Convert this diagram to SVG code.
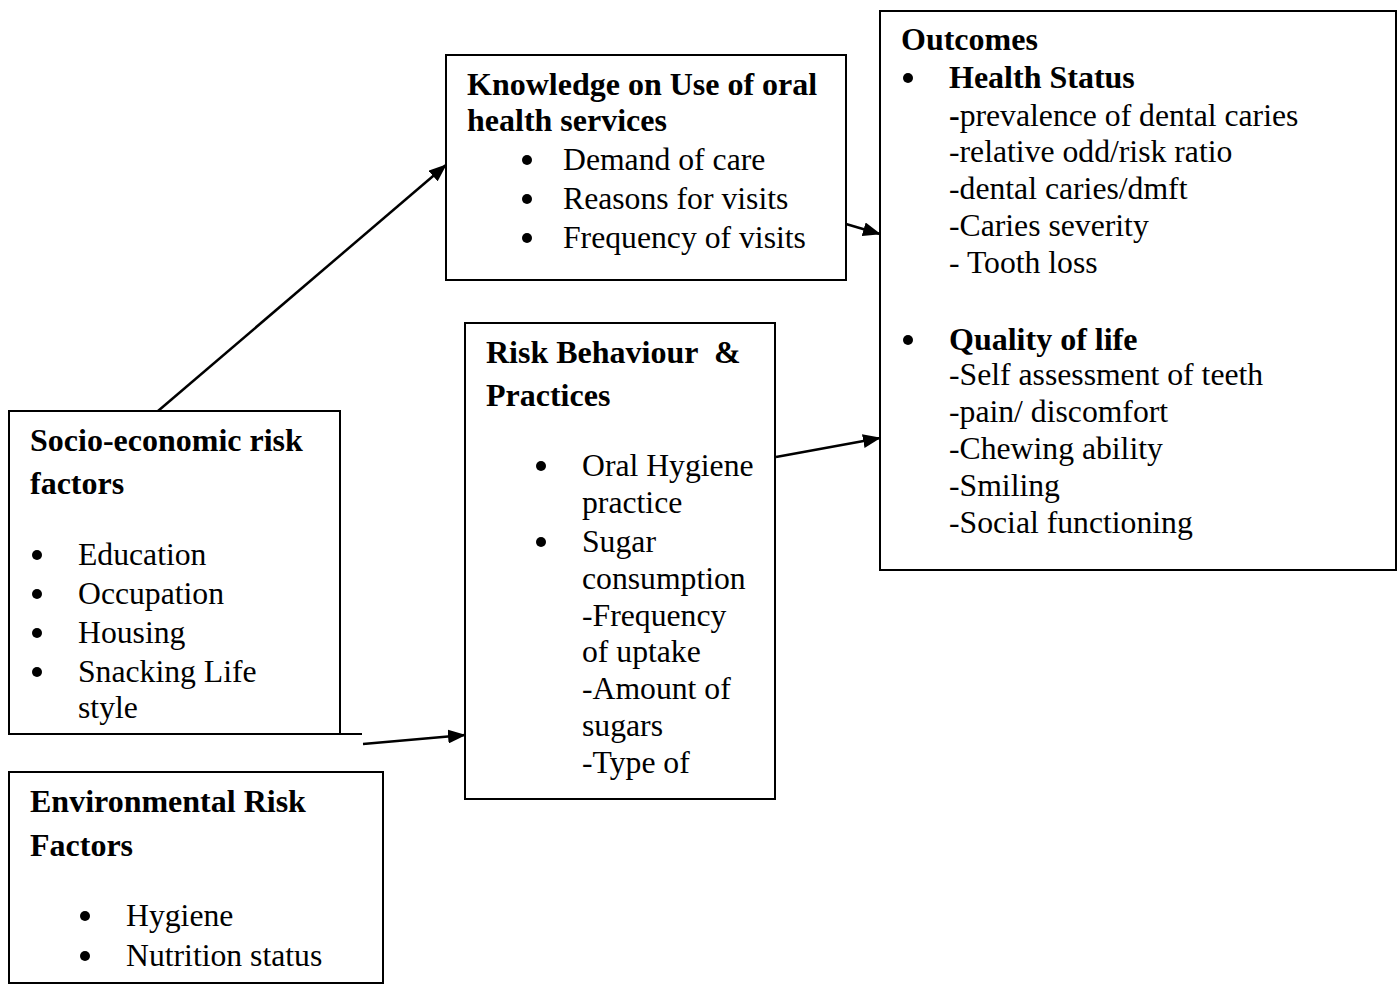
<svg xmlns="http://www.w3.org/2000/svg" width="1398" height="984" viewBox="0 0 1398 984">
<style>
text{font-family:"Liberation Serif","Times New Roman",serif;font-size:31.7px;fill:#000}
.b{font-weight:bold;font-size:32px}
.box{fill:#fff;stroke:#000;stroke-width:2}
.dot{fill:#000}
.ln{stroke:#000;stroke-width:2.5;fill:none}
</style>
<defs>
<marker id="ah2" markerWidth="18" markerHeight="14" refX="17" refY="7" orient="auto" markerUnits="userSpaceOnUse" viewBox="0 0 18 14">
<path d="M0,0 L18,7 L0,14 Z" fill="#000"/>
</marker>
</defs>
<rect width="1398" height="984" fill="#fff"/>

<g id="knowledge">
<rect class="box" x="446" y="55" width="400" height="225"/>
<text class="b" x="467" y="95">Knowledge on Use of oral</text>
<text class="b" x="467" y="131">health services</text>
<circle class="dot" cx="527" cy="160" r="5"/><text x="563" y="170">Demand of care</text>
<circle class="dot" cx="527" cy="199" r="5"/><text x="563" y="209">Reasons for visits</text>
<circle class="dot" cx="527" cy="238" r="5"/><text x="563" y="248">Frequency of visits</text>
</g>

<g id="outcomes">
<rect class="box" x="880" y="11" width="516" height="559"/>
<text class="b" x="901" y="50">Outcomes</text>
<circle class="dot" cx="908" cy="78" r="5"/><text class="b" x="949" y="88">Health Status</text>
<text x="949" y="126"><tspan class="b">-</tspan>prevalence of dental caries</text>
<text x="949" y="162">-relative odd/risk ratio</text>
<text x="949" y="199">-dental caries/dmft</text>
<text x="949" y="236">-Caries severity</text>
<text x="949" y="273">- Tooth loss</text>
<circle class="dot" cx="908" cy="340" r="5"/><text class="b" x="949" y="350">Quality of life</text>
<text x="949" y="385">-Self assessment of teeth</text>
<text x="949" y="422">-pain/ discomfort</text>
<text x="949" y="459">-Chewing ability</text>
<text x="949" y="496">-Smiling</text>
<text x="949" y="533">-Social functioning</text>
</g>

<g id="risk">
<rect class="box" x="465" y="323" width="310" height="476"/>
<text class="b" x="486" y="363" xml:space="preserve">Risk Behaviour  &amp;</text>
<text class="b" x="486" y="406">Practices</text>
<circle class="dot" cx="541" cy="466" r="5"/><text x="582" y="476">Oral Hygiene</text>
<text x="582" y="513">practice</text>
<circle class="dot" cx="541" cy="542" r="5"/><text x="582" y="552">Sugar</text>
<text x="582" y="589">consumption</text>
<text x="582" y="626">-Frequency</text>
<text x="582" y="662">of uptake</text>
<text x="582" y="699">-Amount of</text>
<text x="582" y="736">sugars</text>
<text x="582" y="773">-Type of</text>
</g>

<g id="socio">
<path class="box" d="M9,411 H340 V734 H9 Z"/>
<line x1="340" y1="734" x2="362" y2="734" stroke="#000" stroke-width="2"/>
<text class="b" x="30" y="451">Socio-economic risk</text>
<text class="b" x="30" y="494">factors</text>
<circle class="dot" cx="37" cy="555" r="5"/><text x="78" y="565">Education</text>
<circle class="dot" cx="37" cy="594" r="5"/><text x="78" y="604">Occupation</text>
<circle class="dot" cx="37" cy="633" r="5"/><text x="78" y="643">Housing</text>
<circle class="dot" cx="37" cy="672" r="5"/><text x="78" y="682">Snacking Life</text>
<text x="78" y="718">style</text>
</g>

<g id="environmental">
<rect class="box" x="9" y="772" width="374" height="211"/>
<text class="b" x="30" y="812">Environmental Risk</text>
<text class="b" x="30" y="856">Factors</text>
<circle class="dot" cx="85" cy="916" r="5"/><text x="126" y="926">Hygiene</text>
<circle class="dot" cx="85" cy="956" r="5"/><text x="126" y="966">Nutrition status</text>
</g>

<g id="connectors">
<line class="ln" x1="158" y1="411" x2="446" y2="165" marker-end="url(#ah2)"/>
<line class="ln" x1="846" y1="224" x2="880" y2="234" marker-end="url(#ah2)"/>
<line class="ln" x1="776" y1="457" x2="880" y2="438" marker-end="url(#ah2)"/>
<line class="ln" x1="363" y1="744" x2="465" y2="735" marker-end="url(#ah2)"/>
</g>
</svg>
